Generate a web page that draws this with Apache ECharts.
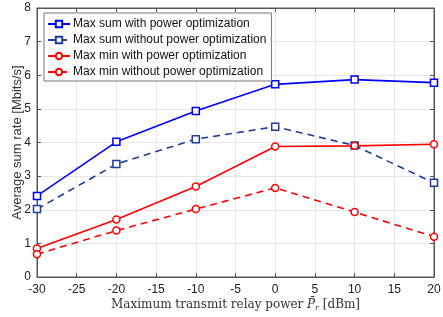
<!DOCTYPE html>
<html><head><meta charset="utf-8">
<script src="https://cdn.jsdelivr.net/npm/echarts@6/dist/echarts.min.js"></script>
<style>html,body{margin:0;padding:0;background:#fff}#c{width:443px;height:317px}</style>
</head><body><div id="c"></div>
<script>
const xValues = [-30, -20, -10, 0, 10, 20];
const maxSumWithPO = [2.41, 4.02, 4.94, 5.73, 5.87, 5.78];
const maxSumWithoutPO = [2.02, 3.36, 4.10, 4.47, 3.91, 2.80];
const maxMinWithPO = [0.85, 1.71, 2.69, 3.88, 3.90, 3.95];
const maxMinWithoutPO = [0.68, 1.38, 2.02, 2.65, 1.93, 1.20];
const seriesNames = ['Max sum with power optimization','Max sum without power optimization','Max min with power optimization','Max min without power optimization'];

const pair = arr => xValues.map((x,i)=>[x,arr[i]]);
const chart = echarts.init(document.getElementById('c'));
const axisCol = '#555';
const mk = (name, data, color, dashed, symbol) => ({
  name, type:'line', data: pair(data), xAxisIndex:0, yAxisIndex:0,
  symbol, symbolSize: 7, showSymbol:true,
  lineStyle:{color, width:1.6, type: dashed ? [7,5] : 'solid'},
  itemStyle:{color:'#fff', borderColor:color, borderWidth:1.5},
  emphasis:{disabled:true}, z: 3
});
const sideAxis = {axisLine:{show:true, onZero:false, lineStyle:{color:axisCol}},
  axisTick:{show:true, inside:true, length:4, lineStyle:{color:axisCol}}};
chart.setOption({
  animation:false,
  textStyle:{fontFamily:'Liberation Sans, Arial, sans-serif'},
  grid:{left:37, right:9, top:8, bottom:40, show:true, borderColor:axisCol, borderWidth:1,
        containLabel:false, outerBoundsMode:'none'},
  legend:{
    orient:'vertical', left:44, top:13, itemWidth:22, itemHeight:8, itemGap:4,
    padding:[5,5,3,3], backgroundColor:'#fff', borderColor:'#777', borderWidth:1, borderRadius:0,
    textStyle:{fontSize:12, color:'#111', padding:[0,0,0,-2]},
    data: seriesNames
  },
  xAxis:[Object.assign({
    type:'value', min:-30, max:20, interval:5,
    axisLabel:{color:'#222', fontSize:12, margin:7},
    splitLine:{show:true, lineStyle:{color:'#e6e6e6'}},
    name:'Maximum transmit relay power {i|P\u0304}{s|r} [dBm]',
    nameLocation:'middle', nameGap:21, nameMoveOverlap:false,
    nameTextStyle:{fontFamily:'DejaVu Serif, Liberation Serif, serif', fontSize:12, color:'#333',
      rich:{i:{fontStyle:'italic', fontFamily:'DejaVu Serif', fontSize:12, color:'#333'},
            s:{fontStyle:'italic', fontFamily:'DejaVu Serif', fontSize:8, color:'#333', padding:[6,0,0,0]}}}
  }, sideAxis), Object.assign({
    type:'value', min:-30, max:20, interval:5, position:'top',
    axisLabel:{show:false}, splitLine:{show:false}
  }, sideAxis)],
  yAxis:[Object.assign({
    type:'value', min:0, max:8, interval:1,
    axisLabel:{color:'#222', fontSize:12, margin:6},
    splitLine:{show:true, lineStyle:{color:'#e6e6e6'}},
    name:'Average sum rate [Mbits/s]', nameLocation:'middle', nameGap:13, nameMoveOverlap:false,
    nameTextStyle:{fontSize:13, color:'#333'}
  }, sideAxis), Object.assign({
    type:'value', min:0, max:8, interval:1, position:'right',
    axisLabel:{show:false}, splitLine:{show:false}
  }, sideAxis)],
  series:[
    mk(seriesNames[0], maxSumWithPO, '#0000ff', false, 'rect'),
    mk(seriesNames[1], maxSumWithoutPO, '#1f3c9f', true, 'rect'),
    mk(seriesNames[2], maxMinWithPO, '#ff0000', false, 'circle'),
    mk(seriesNames[3], maxMinWithoutPO, '#ff0000', true, 'circle')
  ]
});
</script></body></html>
